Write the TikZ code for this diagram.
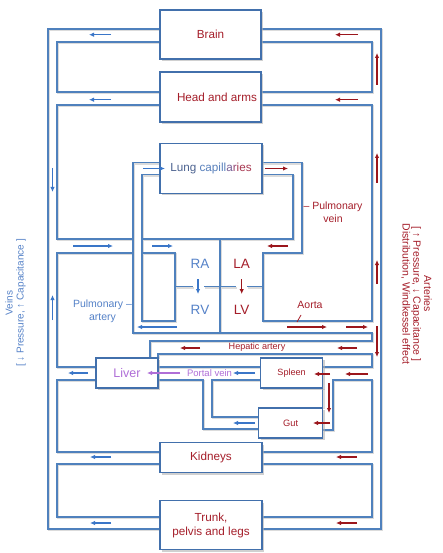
\documentclass[tikz,border=0pt]{standalone}
\usepackage{fontspec}
\setmainfont{Liberation Sans}
\usetikzlibrary{arrows.meta,shadows}
\definecolor{wallc}{RGB}{79,129,189}
\definecolor{boxc}{RGB}{66,112,172}
\definecolor{ablue}{RGB}{58,118,200}
\definecolor{ared}{RGB}{155,22,28}
\definecolor{tred}{RGB}{165,30,42}
\definecolor{tblue}{RGB}{85,130,200}
\definecolor{purp}{RGB}{175,110,215}
\definecolor{lc1}{RGB}{78,100,145}
\definecolor{lc2}{RGB}{88,128,188}
\definecolor{lc3}{RGB}{120,95,150}
\definecolor{lc4}{RGB}{150,70,115}
\definecolor{lc5}{RGB}{168,55,80}
\newcommand\wallset[1]{%
 \draw[#1] (160,29) -- (48,29) -- (48,529) -- (160,529);
 \draw[#1] (261,29) -- (381,29) -- (381,529) -- (262,529);
 \draw[#1] (160,42) -- (57,42) -- (57,92) -- (160,92);
 \draw[#1] (261,42) -- (372,42) -- (372,92) -- (261,92);
 \draw[#1] (160,105) -- (57,105) -- (57,239) -- (133,239);
 \draw[#1] (160,162.5) -- (133,162.5) -- (133,333) -- (372,333) -- (372,341) -- (150,341) -- (150,358);
 \draw[#1] (261,105) -- (372,105) -- (372,321) -- (263,321) -- (263,253) -- (302,253) -- (302,162.5) -- (262,162.5);
 \draw[#1] (160,174.5) -- (142,174.5) -- (142,321) -- (175,321) -- (175,253) -- (142,253);
 \draw[#1] (262,174.5) -- (293,174.5) -- (293,239) -- (142,239);
 \draw[#1] (133,253) -- (57,253) -- (57,367) -- (96,367);
 \draw[#1] (220,239) -- (220,333);
 \draw[#1] (175,286.7) -- (193,286.7);
 \draw[#1] (204,286.7) -- (236,286.7);
 \draw[#1] (247,286.7) -- (263,286.7);
 \draw[#1] (158,358) -- (158,354) -- (372,354) -- (372,367) -- (322.7,367);
 \draw[#1] (260.5,367) -- (158,367);
 \draw[#1] (158,380) -- (203,380) -- (203,429) -- (258.5,429);
 \draw[#1] (260.5,380) -- (212,380) -- (212,417) -- (258.5,417);
 \draw[#1] (262,452) -- (372,452) -- (372,380) -- (333,380) -- (333,430) -- (322.7,430);
 \draw[#1] (322.7,388) -- (322.7,408);
 \draw[#1] (96,380) -- (57,380) -- (57,452) -- (160,452);
 \draw[#1] (160,464) -- (57,464) -- (57,517) -- (160,517);
 \draw[#1] (262,464) -- (372,464) -- (372,517) -- (262,517);
}
\begin{document}
\begin{tikzpicture}[x=1pt,y=-1pt,
  wall/.style={draw=wallc, line width=1.2pt},
  wallsh/.style={draw=black!14, line width=1.7pt},
  organ/.style={draw=boxc, line width=1.2pt, fill=white, inner sep=0pt, text=tred,
    font=\fontsize{11.7}{14}\selectfont, align=center,
    drop shadow={shadow xshift=2pt, shadow yshift=-2pt, fill=black!30, opacity=0.6}},
  va/.style={draw=ablue, line width=1.4pt, -{Latex[length=5pt,width=4.5pt]}},
  ra/.style={draw=ared, line width=1.4pt, -{Latex[length=5pt,width=4.5pt]}},
  pa/.style={draw=purp, line width=1.4pt, -{Latex[length=5pt,width=4.5pt]}},
  lbl/.style={inner sep=0pt, align=center},
]
\useasboundingbox (0,0) rectangle (442,553);
\fill[white] (0,0) rectangle (442,553);
\begin{scope}[xshift=1.3pt,yshift=-1.3pt]
\wallset{wallsh}
\end{scope}
\wallset{wall}
% organ boxes
\node[organ, minimum width=101, minimum height=49] (brain) at (210.5,34.5) {Brain};
\node[organ, minimum width=101, minimum height=50] (head) at (210.5,97) {\hspace*{13pt}Head and arms};
\node[organ, minimum width=102, minimum height=50] (lung) at (211,168.4)
  {\color{lc1}Lung \color{lc2}capill\color{lc3}a\color{lc4}r\color{lc5}ies};
\node[organ, minimum width=62, minimum height=30, text=purp, font=\fontsize{12.5}{14}\selectfont] (liver) at (127,373) {Liver};
\node[organ, minimum width=62, minimum height=30, font=\fontsize{9.1}{11}\selectfont] (spleen) at (291.6,373) {Spleen};
\node[organ, minimum width=64, minimum height=30, font=\fontsize{9.3}{11}\selectfont] (gut) at (290.6,423) {Gut};
\node[organ, minimum width=102, minimum height=30] (kidneys) at (211,457.7) {Kidneys};
\node[organ, minimum width=102, minimum height=49] (trunk) at (211,525.3) {Trunk,\\pelvis and legs};
% heart labels
\node[lbl, text=tblue, font=\fontsize{13.5}{15}\selectfont] (rav) at (200,264.3) {RA};
\node[lbl, text=tred, font=\fontsize{13.5}{15}\selectfont] (lav) at (241.7,264.3) {LA};
\node[lbl, text=tblue, font=\fontsize{13.5}{15}\selectfont] (rvv) at (200,310) {RV};
\node[lbl, text=tred, font=\fontsize{13.5}{15}\selectfont] (lvv) at (241.7,310) {LV};
% other labels
\node[lbl, text=tred, font=\fontsize{10.5}{12.7}\selectfont] (pvein) at (333,212) {– Pulmonary\\vein};
\node[lbl, text=tblue, font=\fontsize{10.5}{12.7}\selectfont] (partery) at (102.5,311.5) {Pulmonary –\\artery};
\node[lbl, text=tred, font=\fontsize{10.5}{12}\selectfont] (aorta) at (310,305) {Aorta};
\draw[tred, line width=0.8pt] (297,322) -- (301,315);
\node[lbl, text=tred, font=\fontsize{9.1}{11}\selectfont] (hepa) at (257,347.5) {Hepatic artery};
\node[lbl, text=purp, font=\fontsize{9.5}{11}\selectfont] (portal) at (209.5,373) {Portal vein};
\node[lbl, text=tblue, rotate=90, font=\fontsize{10}{11}\selectfont] (veins) at (15.5,303) {Veins\\{[} ↓ Pressure, ↑ Capacitance ]};
\node[lbl, text=tred, rotate=-90, font=\fontsize{10.5}{10.8}\selectfont] (arteries) at (416.5,294) {Arteries\\{[} ↑ Pressure, ↓ Capacitance ]\\Distribution, Windkessel effect};
% venous arrows
\draw[va] (111,34.7) -- (89,34.7);
\draw[va] (111,99.7) -- (89,99.7);
\draw[va] (52.5,168) -- (52.5,192);
\draw[va] (52.5,320) -- (52.5,295);
\draw[va] (73,246) -- (113,246);
\draw[va] (152,246) -- (173,246);
\draw[va] (143,168.5) -- (165,168.5);
\draw[va] (177,327) -- (137,327);
\draw[va] (88,373) -- (68,373);
\draw[va] (255,373) -- (233,373);
\draw[va] (255,423) -- (233,423);
\draw[va] (111,457) -- (90,457);
\draw[va] (111,523) -- (90,523);
\draw[va] (198,279) -- (198,294);
% arterial arrows
\draw[ra] (358,34.7) -- (335,34.7);
\draw[ra] (358,99.7) -- (335,99.7);
\draw[ra] (377,85) -- (377,53);
\draw[ra] (377,183) -- (377,153);
\draw[ra] (377,284) -- (377,260);
\draw[ra] (377,326) -- (377,357);
\draw[ra] (265,168.5) -- (288,168.5);
\draw[ra] (288,246) -- (267,246);
\draw[ra] (241.7,279) -- (241.7,294);
\draw[ra] (287,327) -- (327,327);
\draw[ra] (346,327) -- (368,327);
\draw[ra] (200,348) -- (180,348);
\draw[ra] (357,348) -- (337,348);
\draw[ra] (368,374) -- (345,374);
\draw[ra] (330,374) -- (314,374);
\draw[ra] (329,383) -- (329,413);
\draw[ra] (330,423) -- (313,423);
\draw[ra] (357,457) -- (336,457);
\draw[ra] (357,523) -- (336,523);
% portal
\draw[pa] (180,373) -- (147,373);
\end{tikzpicture}
\end{document}
